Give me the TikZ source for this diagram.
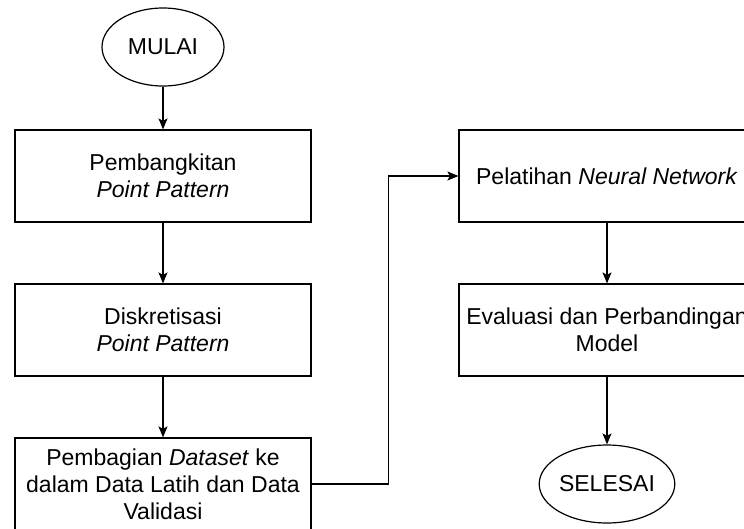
\documentclass[tikz,border=0pt]{standalone}
\usepackage{fontspec}
\setmainfont{Liberation Sans}
\usetikzlibrary{arrows.meta,shapes.geometric}
\begin{document}
\begin{tikzpicture}[x=1pt,y=-1pt,
  every node/.style={font=\fontsize{23}{27}\selectfont},
  procbox/.style={draw, line width=1.2pt, minimum width=296pt, minimum height=92pt,
    align=center, inner sep=0pt},
  terminal/.style={draw, ellipse, line width=1.2pt, minimum width=122pt,
    minimum height=78pt, inner sep=0pt},
  flow/.style={-{Stealth[length=11pt,width=9pt,inset=2.5pt]}, line width=1.2pt}]
\clip (0,0) rectangle (744,528);

% left column
\node[terminal] (mulai) at (163,47) {MULAI};
\node[procbox] (gen) at (163,176) {Pembangkitan\\\textit{Point Pattern}};
\node[procbox] (disk) at (163,330) {Diskretisasi\\\textit{Point Pattern}};
\node[procbox] (split) at (163,484) {Pembagian \textit{Dataset} ke\\dalam Data Latih dan Data\\Validasi};

% right column
\node[procbox] (train) at (607,176) {Pelatihan \textit{Neural Network}};
\node[procbox] (eval) at (607,330) {Evaluasi dan Perbandingan\\Model};
\node[terminal] (selesai) at (607,484) {SELESAI};

% connectors
\draw[flow] (mulai) -- (gen);
\draw[flow] (gen) -- (disk);
\draw[flow] (disk) -- (split);
\draw[flow] (split.east) -- ++(77,0) |- (train.west);
\draw[flow] (train) -- (eval);
\draw[flow] (eval) -- (selesai);
\end{tikzpicture}
\end{document}
